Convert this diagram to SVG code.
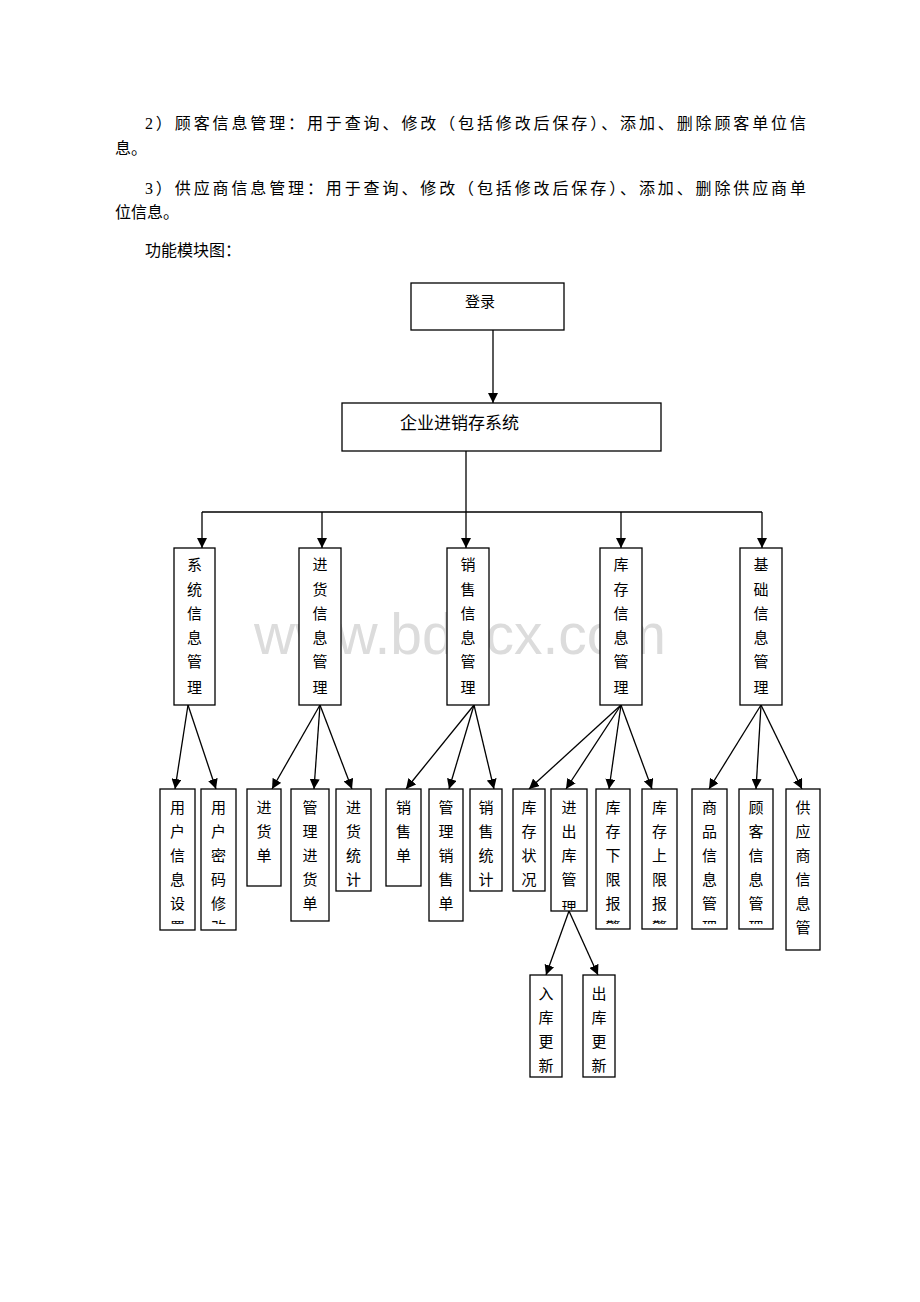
<svg xmlns="http://www.w3.org/2000/svg" width="920" height="1302" viewBox="0 0 920 1302">
<style>
.body{font-family:"Liberation Serif","Noto Sans CJK SC",serif;font-size:16px;fill:#000}
.box{fill:#fff;stroke:#000;stroke-width:1.3}
.lbl{font-family:"Liberation Serif","Noto Sans CJK SC",serif;font-size:15px;fill:#000;text-anchor:middle}
.edge{stroke:#000;stroke-width:1.3;fill:none}
.wm{font-family:"Liberation Sans",Arial,sans-serif;font-size:57px;fill:#dcdcdc}
</style>
<defs>
<marker id="ah" viewBox="0 0 10 10" refX="10" refY="5" markerWidth="10" markerHeight="10" markerUnits="userSpaceOnUse" orient="auto">
<path d="M0,0 L10,5 L0,10 z" fill="#000"/>
</marker>
<clipPath id="c1"><rect x="161" y="790" width="33" height="134"/></clipPath>
<clipPath id="c2"><rect x="202" y="790" width="33" height="134"/></clipPath>
<clipPath id="c3"><rect x="552" y="790" width="34" height="120"/></clipPath>
<clipPath id="c4"><rect x="597" y="790" width="32" height="134"/></clipPath>
<clipPath id="c5"><rect x="643" y="790" width="33" height="134"/></clipPath>
<clipPath id="c6"><rect x="693" y="790" width="33" height="134"/></clipPath>
<clipPath id="c7"><rect x="740" y="790" width="32" height="134"/></clipPath>
<clipPath id="c8"><rect x="787" y="790" width="32" height="152"/></clipPath>
</defs>

<g id="paragraphs">
<text class="body" x="145" y="129" textLength="661" lengthAdjust="spacing">2）顾客信息管理：用于查询、修改（包括修改后保存）、添加、删除顾客单位信</text>
<text class="body" x="115" y="154">息。</text>
<text class="body" x="145" y="194" textLength="661" lengthAdjust="spacing">3）供应商信息管理：用于查询、修改（包括修改后保存）、添加、删除供应商单</text>
<text class="body" x="115" y="218">位信息。</text>
<text class="body" x="145" y="256">功能模块图：</text>
</g>

<text class="wm" x="460" y="654" text-anchor="middle">www.bdocx.com</text>

<g id="connectors">
<line class="edge" x1="493" y1="330" x2="493" y2="403" marker-end="url(#ah)"/>
<line class="edge" x1="466" y1="451" x2="466" y2="512"/>
<line class="edge" x1="202" y1="512" x2="762" y2="512"/>
<line class="edge" x1="202" y1="512" x2="202" y2="548" marker-end="url(#ah)"/>
<line class="edge" x1="322" y1="512" x2="322" y2="548" marker-end="url(#ah)"/>
<line class="edge" x1="466" y1="512" x2="466" y2="548" marker-end="url(#ah)"/>
<line class="edge" x1="621" y1="512" x2="621" y2="548" marker-end="url(#ah)"/>
<line class="edge" x1="762" y1="512" x2="762" y2="548" marker-end="url(#ah)"/>

<line class="edge" x1="188" y1="705" x2="175" y2="789" marker-end="url(#ah)"/>
<line class="edge" x1="188" y1="705" x2="216" y2="789" marker-end="url(#ah)"/>

<line class="edge" x1="320" y1="705" x2="272" y2="789" marker-end="url(#ah)"/>
<line class="edge" x1="320" y1="705" x2="314" y2="789" marker-end="url(#ah)"/>
<line class="edge" x1="320" y1="705" x2="352" y2="789" marker-end="url(#ah)"/>

<line class="edge" x1="474" y1="705" x2="406" y2="789" marker-end="url(#ah)"/>
<line class="edge" x1="474" y1="705" x2="449" y2="789" marker-end="url(#ah)"/>
<line class="edge" x1="474" y1="705" x2="494" y2="789" marker-end="url(#ah)"/>

<line class="edge" x1="621" y1="705" x2="529" y2="789" marker-end="url(#ah)"/>
<line class="edge" x1="621" y1="705" x2="566" y2="789" marker-end="url(#ah)"/>
<line class="edge" x1="621" y1="705" x2="609" y2="789" marker-end="url(#ah)"/>
<line class="edge" x1="621" y1="705" x2="652" y2="789" marker-end="url(#ah)"/>

<line class="edge" x1="761" y1="705" x2="709" y2="789" marker-end="url(#ah)"/>
<line class="edge" x1="761" y1="705" x2="756" y2="789" marker-end="url(#ah)"/>
<line class="edge" x1="761" y1="705" x2="802" y2="789" marker-end="url(#ah)"/>

<line class="edge" x1="569" y1="911" x2="546" y2="975" marker-end="url(#ah)"/>
<line class="edge" x1="569" y1="911" x2="598" y2="975" marker-end="url(#ah)"/>
</g>

<g id="n-login">
<rect class="box" x="411" y="283" width="153" height="47"/>
<text class="lbl" x="480" y="307">登录</text>
</g>
<g id="n-system">
<rect class="box" x="342" y="403" width="319" height="48"/>
<text class="body" x="400" y="429" style="font-size:17px">企业进销存系统</text>
</g>

<g id="n-sys">
<rect class="box" x="174" y="548" width="41" height="157"/>
<text class="lbl"><tspan x="194.5" y="570">系</tspan><tspan x="194.5" y="595">统</tspan><tspan x="194.5" y="619">信</tspan><tspan x="194.5" y="643">息</tspan><tspan x="194.5" y="667">管</tspan><tspan x="194.5" y="693">理</tspan></text>
</g>
<g id="n-purchase">
<rect class="box" x="299" y="548" width="42" height="157"/>
<text class="lbl"><tspan x="320" y="570">进</tspan><tspan x="320" y="595">货</tspan><tspan x="320" y="619">信</tspan><tspan x="320" y="643">息</tspan><tspan x="320" y="667">管</tspan><tspan x="320" y="693">理</tspan></text>
</g>
<g id="n-sales">
<rect class="box" x="447" y="548" width="42" height="157"/>
<text class="lbl"><tspan x="468" y="570">销</tspan><tspan x="468" y="595">售</tspan><tspan x="468" y="619">信</tspan><tspan x="468" y="643">息</tspan><tspan x="468" y="667">管</tspan><tspan x="468" y="693">理</tspan></text>
</g>
<g id="n-stock">
<rect class="box" x="600" y="548" width="42" height="157"/>
<text class="lbl"><tspan x="621" y="570">库</tspan><tspan x="621" y="595">存</tspan><tspan x="621" y="619">信</tspan><tspan x="621" y="643">息</tspan><tspan x="621" y="667">管</tspan><tspan x="621" y="693">理</tspan></text>
</g>
<g id="n-base">
<rect class="box" x="740" y="548" width="42" height="157"/>
<text class="lbl"><tspan x="761" y="570">基</tspan><tspan x="761" y="595">础</tspan><tspan x="761" y="619">信</tspan><tspan x="761" y="643">息</tspan><tspan x="761" y="667">管</tspan><tspan x="761" y="693">理</tspan></text>
</g>

<g id="n-userinfo">
<rect class="box" x="160" y="789" width="35" height="141"/>
<text class="lbl" clip-path="url(#c1)"><tspan x="177.5" y="813">用</tspan><tspan x="177.5" y="837">户</tspan><tspan x="177.5" y="861">信</tspan><tspan x="177.5" y="885">息</tspan><tspan x="177.5" y="909">设</tspan><tspan x="177.5" y="933">置</tspan></text>
</g>
<g id="n-userpwd">
<rect class="box" x="201" y="789" width="35" height="141"/>
<text class="lbl" clip-path="url(#c2)"><tspan x="218.5" y="813">用</tspan><tspan x="218.5" y="837">户</tspan><tspan x="218.5" y="861">密</tspan><tspan x="218.5" y="885">码</tspan><tspan x="218.5" y="909">修</tspan><tspan x="218.5" y="933">改</tspan></text>
</g>
<g id="n-pbill">
<rect class="box" x="247" y="789" width="34" height="97"/>
<text class="lbl"><tspan x="264" y="813">进</tspan><tspan x="264" y="837">货</tspan><tspan x="264" y="861">单</tspan></text>
</g>
<g id="n-pmanage">
<rect class="box" x="291" y="789" width="38" height="132"/>
<text class="lbl"><tspan x="310" y="813">管</tspan><tspan x="310" y="837">理</tspan><tspan x="310" y="861">进</tspan><tspan x="310" y="885">货</tspan><tspan x="310" y="909">单</tspan></text>
</g>
<g id="n-pstat">
<rect class="box" x="336" y="789" width="35" height="102"/>
<text class="lbl"><tspan x="353.5" y="813">进</tspan><tspan x="353.5" y="837">货</tspan><tspan x="353.5" y="861">统</tspan><tspan x="353.5" y="885">计</tspan></text>
</g>
<g id="n-sbill">
<rect class="box" x="386" y="789" width="35" height="97"/>
<text class="lbl"><tspan x="403.5" y="813">销</tspan><tspan x="403.5" y="837">售</tspan><tspan x="403.5" y="861">单</tspan></text>
</g>
<g id="n-smanage">
<rect class="box" x="429" y="789" width="34" height="132"/>
<text class="lbl"><tspan x="446" y="813">管</tspan><tspan x="446" y="837">理</tspan><tspan x="446" y="861">销</tspan><tspan x="446" y="885">售</tspan><tspan x="446" y="909">单</tspan></text>
</g>
<g id="n-sstat">
<rect class="box" x="470" y="789" width="32" height="102"/>
<text class="lbl"><tspan x="486" y="813">销</tspan><tspan x="486" y="837">售</tspan><tspan x="486" y="861">统</tspan><tspan x="486" y="885">计</tspan></text>
</g>
<g id="n-status">
<rect class="box" x="513" y="789" width="32" height="102"/>
<text class="lbl"><tspan x="529" y="813">库</tspan><tspan x="529" y="837">存</tspan><tspan x="529" y="861">状</tspan><tspan x="529" y="885">况</tspan></text>
</g>
<g id="n-inout">
<rect class="box" x="551" y="789" width="36" height="122"/>
<text class="lbl" clip-path="url(#c3)"><tspan x="569" y="813">进</tspan><tspan x="569" y="837">出</tspan><tspan x="569" y="861">库</tspan><tspan x="569" y="885">管</tspan><tspan x="569" y="913">理</tspan></text>
</g>
<g id="n-low">
<rect class="box" x="596" y="789" width="34" height="140"/>
<text class="lbl" clip-path="url(#c4)"><tspan x="613" y="813">库</tspan><tspan x="613" y="837">存</tspan><tspan x="613" y="861">下</tspan><tspan x="613" y="885">限</tspan><tspan x="613" y="909">报</tspan><tspan x="613" y="933">警</tspan></text>
</g>
<g id="n-high">
<rect class="box" x="642" y="789" width="35" height="140"/>
<text class="lbl" clip-path="url(#c5)"><tspan x="659.5" y="813">库</tspan><tspan x="659.5" y="837">存</tspan><tspan x="659.5" y="861">上</tspan><tspan x="659.5" y="885">限</tspan><tspan x="659.5" y="909">报</tspan><tspan x="659.5" y="933">警</tspan></text>
</g>
<g id="n-goods">
<rect class="box" x="692" y="789" width="35" height="140"/>
<text class="lbl" clip-path="url(#c6)"><tspan x="709.5" y="813">商</tspan><tspan x="709.5" y="837">品</tspan><tspan x="709.5" y="861">信</tspan><tspan x="709.5" y="885">息</tspan><tspan x="709.5" y="909">管</tspan><tspan x="709.5" y="933">理</tspan></text>
</g>
<g id="n-customer">
<rect class="box" x="739" y="789" width="34" height="140"/>
<text class="lbl" clip-path="url(#c7)"><tspan x="756" y="813">顾</tspan><tspan x="756" y="837">客</tspan><tspan x="756" y="861">信</tspan><tspan x="756" y="885">息</tspan><tspan x="756" y="909">管</tspan><tspan x="756" y="933">理</tspan></text>
</g>
<g id="n-supplier">
<rect class="box" x="786" y="789" width="34" height="161"/>
<text class="lbl" clip-path="url(#c8)"><tspan x="803" y="813">供</tspan><tspan x="803" y="837">应</tspan><tspan x="803" y="861">商</tspan><tspan x="803" y="885">信</tspan><tspan x="803" y="909">息</tspan><tspan x="803" y="933">管</tspan><tspan x="803" y="957">理</tspan></text>
</g>

<g id="n-inupdate">
<rect class="box" x="530" y="975" width="32" height="102"/>
<text class="lbl"><tspan x="546" y="999">入</tspan><tspan x="546" y="1023">库</tspan><tspan x="546" y="1047">更</tspan><tspan x="546" y="1071">新</tspan></text>
</g>
<g id="n-outupdate">
<rect class="box" x="583" y="975" width="32" height="102"/>
<text class="lbl"><tspan x="599" y="999">出</tspan><tspan x="599" y="1023">库</tspan><tspan x="599" y="1047">更</tspan><tspan x="599" y="1071">新</tspan></text>
</g>
</svg>
